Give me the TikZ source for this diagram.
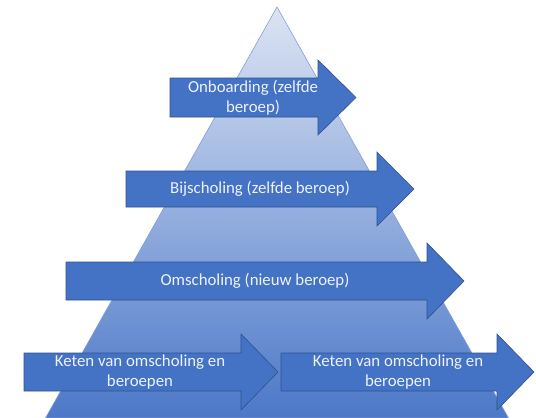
\documentclass[tikz,border=0pt]{standalone}
\usepackage{fontspec}
\setmainfont{Carlito}
\definecolor{arrowfill}{HTML}{4472C4}
\definecolor{arrowline}{HTML}{2F528F}
\definecolor{tritop}{HTML}{DCE4F3}
\definecolor{tribot}{HTML}{4C78C8}
\definecolor{triline}{HTML}{7F9FD6}
\definecolor{txt}{HTML}{EEF2FA}
\tikzset{
  arrowbody/.style={fill=arrowfill, draw=arrowline, line width=0.6pt, line join=miter},
  lbl/.style={text=txt, font=\fontsize{16.8}{20}\selectfont, align=center, inner sep=0pt}
}
\begin{document}
\begin{tikzpicture}[x=1pt,y=-1pt]
\useasboundingbox (0,0) rectangle (536,418);
% pyramid
\shade[top color=tritop, bottom color=tribot, draw=triline, line width=0.6pt]
  (277,7) -- (508.5,418) -- (45.5,418) -- cycle;
% arrow 1
\draw[arrowbody] (170,78) -- (318,78) -- (318,60) -- (356,97.5) -- (318,135) -- (318,117) -- (170,117) -- cycle;
\node[lbl] (a1) at (253,97.5) {Onboarding (zelfde\\beroep)};
% arrow 2
\draw[arrowbody] (126,171) -- (377,171) -- (377,152) -- (414,189) -- (377,226) -- (377,207) -- (126,207) -- cycle;
\node[lbl] (a2) at (260,189) {Bijscholing (zelfde beroep)};
% arrow 3
\draw[arrowbody] (66,262) -- (427,262) -- (427,243) -- (464,281) -- (427,319) -- (427,300) -- (66,300) -- cycle;
\node[lbl] (a3) at (255,281) {Omscholing (nieuw beroep)};
% arrow 4
\draw[arrowbody] (24,353) -- (241,353) -- (241,334) -- (278,372) -- (241,410) -- (241,391) -- (24,391) -- cycle;
\node[lbl] (a4) at (140,372) {Keten van omscholing en\\beroepen};
% arrow 5
\draw[arrowbody] (281,353) -- (497,353) -- (497,334) -- (534,372) -- (497,410) -- (497,391) -- (281,391) -- cycle;
\node[lbl] (a5) at (398,372) {Keten van omscholing en\\beroepen};
\end{tikzpicture}
\end{document}
